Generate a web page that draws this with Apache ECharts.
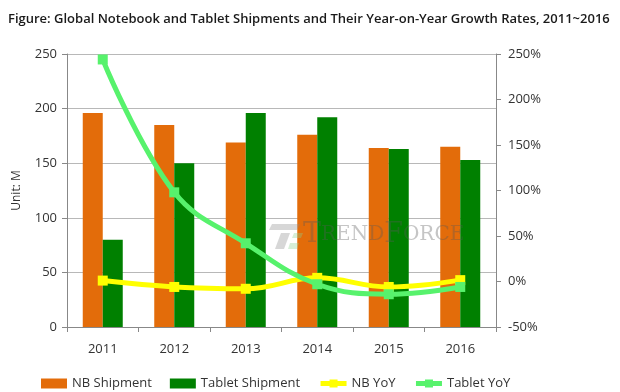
<!DOCTYPE html>
<html>
<head>
<meta charset="utf-8">
<script src="https://cdn.jsdelivr.net/npm/echarts@6/dist/echarts.min.js"></script>
<style>
html,body{margin:0;padding:0;background:#fff;}
#chart{width:620px;height:392px;}
</style>
</head>
<body>
<div id="chart"></div>
<script>
var categories = ['2011', '2012', '2013', '2014', '2015', '2016'];
var nbShipment = [196, 185, 169, 176, 164, 165];
var tabletShipment = [80, 150, 196, 192, 163, 153];
var nbYoY = [1, -6, -8, 4, -6, 1.5];
var tabletYoY = [244, 98, 42, -3, -14, -6];

var font = '"Open Sans", "Noto Sans", sans-serif';
var chart = echarts.init(document.getElementById('chart'));
chart.setOption({
  animation: false,
  backgroundColor: '#fff',
  title: {
    text: 'Figure: Global Notebook and Tablet Shipments and Their Year-on-Year Growth Rates, 2011~2016',
    left: 3, top: 8,
    textStyle: {fontFamily: font, fontSize: 13, fontWeight: 600, color: '#1a1a1a'}
  },
  grid: {left: 67, right: 124, top: 54, bottom: 65},
  legend: {
    top: 372, left: 36, itemGap: 18, itemWidth: 26, itemHeight: 10,
    textStyle: {fontFamily: font, fontSize: 13, color: '#333'},
    data: [
      {name: 'NB Shipment', icon: 'rect'},
      {name: 'Tablet Shipment', icon: 'rect'},
      {name: 'NB YoY', lineStyle: {width: 5}},
      {name: 'Tablet YoY', lineStyle: {width: 5}}
    ]
  },
  xAxis: {
    type: 'category', data: categories,
    axisLine: {lineStyle: {color: '#888'}},
    axisTick: {show: true, alignWithLabel: false, length: 5, lineStyle: {color: '#888'}},
    axisLabel: {fontFamily: font, fontSize: 13, color: '#333', margin: 16}
  },
  yAxis: [
    {
      type: 'value', min: 0, max: 250, interval: 50,
      name: 'Unit: M', nameLocation: 'middle', nameGap: 44, nameRotate: 90,
      nameTextStyle: {fontFamily: font, fontSize: 12, color: '#333'},
      axisLine: {show: true, lineStyle: {color: '#888'}},
      axisTick: {show: true, length: 5, lineStyle: {color: '#888'}},
      axisLabel: {fontFamily: font, fontSize: 13, color: '#333', margin: 10},
      splitLine: {lineStyle: {color: '#b8b8b8'}}
    },
    {
      type: 'value', min: -50, max: 250, interval: 50,
      axisLine: {show: true, lineStyle: {color: '#888'}},
      axisTick: {show: true, length: 5, lineStyle: {color: '#888'}},
      axisLabel: {fontFamily: font, fontSize: 13, color: '#333', margin: 12, formatter: '{value}%'},
      splitLine: {show: false}
    }
  ],
  series: [
    {name: 'NB Shipment', type: 'bar', data: nbShipment, barWidth: 20, barGap: '0%',
     itemStyle: {color: '#E36C0A'}},
    {name: 'Tablet Shipment', type: 'bar', data: tabletShipment, barWidth: 20,
     itemStyle: {color: '#008000'}},
    {name: 'NB YoY', type: 'line', yAxisIndex: 1, data: nbYoY, smooth: 0.4,
     symbol: 'rect', symbolSize: 10, lineStyle: {width: 5, color: '#FFFF00'},
     itemStyle: {color: '#FFFF00'}, z: 3},
    {name: 'Tablet YoY', type: 'line', yAxisIndex: 1, data: tabletYoY, smooth: 0.4,
     symbol: 'rect', symbolSize: 10, lineStyle: {width: 5, color: '#57F26C'},
     itemStyle: {color: '#57F26C'}, z: 4}
  ],
  graphic: [
    {type: 'polygon', z: 100, shape: {points: [[272,224],[300,224],[297,230],[269,230]]}, style: {fill: 'rgba(140,140,140,0.35)'}},
    {type: 'polygon', z: 100, shape: {points: [[281,233],[290,233],[284,249],[275,249]]}, style: {fill: 'rgba(140,140,140,0.35)'}},
    {type: 'polygon', z: 100, shape: {points: [[294,233],[303,233],[301,238],[292,238]]}, style: {fill: 'rgba(140,210,140,0.35)'}},
    {type: 'polygon', z: 100, shape: {points: [[290,243],[299,243],[297,249],[288,249]]}, style: {fill: 'rgba(140,210,140,0.35)'}},
    {type: 'text', z: 100, left: 303, top: 221,
     style: {
       text: '{b|T}{s|REND}{b|F}{s|ORCE}',
       rich: {
         b: {fontFamily: '"DejaVu Serif", "Liberation Serif", serif', fontSize: 27, fill: 'rgba(90,90,90,0.35)'},
         s: {fontFamily: '"DejaVu Serif", "Liberation Serif", serif', fontSize: 20, fill: 'rgba(90,90,90,0.35)'}
       }
     }}
  ]
});
</script>
</body>
</html>
